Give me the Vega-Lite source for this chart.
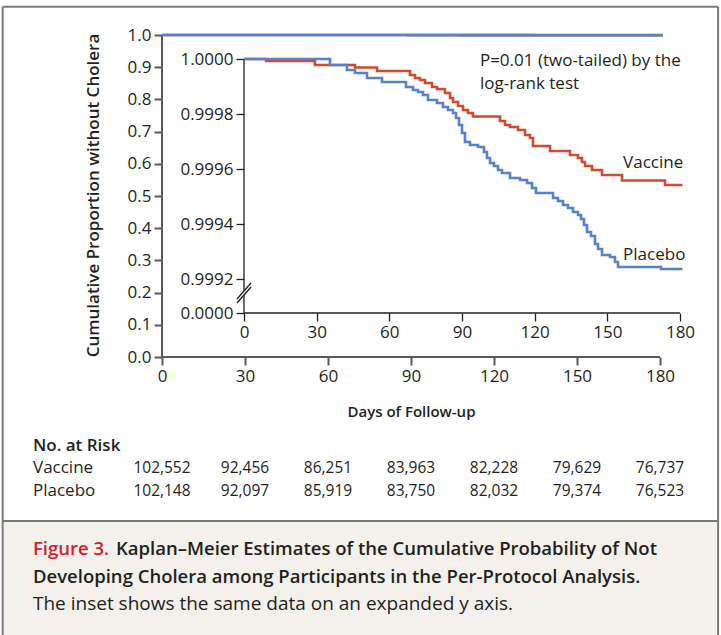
{
  "$schema": "https://vega.github.io/schema/vega-lite/v6.json",
  "width": 721,
  "height": 635,
  "autosize": "none",
  "padding": 0,
  "background": "white",
  "config": {
    "view": {"stroke": null},
    "font": "Open Sans",
    "axis": {"labelFont": "Open Sans", "labelFontSize": 17, "labelColor": "#231f20", "grid": false, "domain": false, "titleFont": "Open Sans"},
    "text": {"font": "Open Sans", "fontSize": 15, "color": "#231f20"}
  },
  "datasets": {
    "km": [
      {"group": "Vaccine", "day": 0, "surv": 1},
      {"group": "Vaccine", "day": 9.08, "surv": 0.9999927},
      {"group": "Vaccine", "day": 29.31, "surv": 0.9999782},
      {"group": "Vaccine", "day": 45.83, "surv": 0.9999691},
      {"group": "Vaccine", "day": 54.91, "surv": 0.9999564},
      {"group": "Vaccine", "day": 68.53, "surv": 0.9999418},
      {"group": "Vaccine", "day": 70.6, "surv": 0.9999309},
      {"group": "Vaccine", "day": 72.66, "surv": 0.9999236},
      {"group": "Vaccine", "day": 74.73, "surv": 0.9999127},
      {"group": "Vaccine", "day": 77.62, "surv": 0.9998982},
      {"group": "Vaccine", "day": 79.68, "surv": 0.9998909},
      {"group": "Vaccine", "day": 82.98, "surv": 0.9998764},
      {"group": "Vaccine", "day": 85.05, "surv": 0.9998582},
      {"group": "Vaccine", "day": 86.29, "surv": 0.9998436},
      {"group": "Vaccine", "day": 88.35, "surv": 0.9998291},
      {"group": "Vaccine", "day": 90.41, "surv": 0.9998145},
      {"group": "Vaccine", "day": 92.48, "surv": 0.9998036},
      {"group": "Vaccine", "day": 94.54, "surv": 0.9997909},
      {"group": "Vaccine", "day": 105.69, "surv": 0.9997745},
      {"group": "Vaccine", "day": 107.75, "surv": 0.99976},
      {"group": "Vaccine", "day": 109.82, "surv": 0.9997527},
      {"group": "Vaccine", "day": 113.12, "surv": 0.9997418},
      {"group": "Vaccine", "day": 116.01, "surv": 0.9997236},
      {"group": "Vaccine", "day": 118.07, "surv": 0.9997127},
      {"group": "Vaccine", "day": 119.31, "surv": 0.9996836},
      {"group": "Vaccine", "day": 126.33, "surv": 0.9996655},
      {"group": "Vaccine", "day": 134.59, "surv": 0.9996509},
      {"group": "Vaccine", "day": 137.89, "surv": 0.99964},
      {"group": "Vaccine", "day": 139.54, "surv": 0.9996255},
      {"group": "Vaccine", "day": 140.78, "surv": 0.9996109},
      {"group": "Vaccine", "day": 143.67, "surv": 0.9995964},
      {"group": "Vaccine", "day": 147.8, "surv": 0.9995782},
      {"group": "Vaccine", "day": 156.06, "surv": 0.9995582},
      {"group": "Vaccine", "day": 173.81, "surv": 0.9995418},
      {"group": "Vaccine", "day": 181, "surv": 0.9995418},
      {"group": "Placebo", "day": 0, "surv": 1},
      {"group": "Placebo", "day": 35.51, "surv": 0.9999782},
      {"group": "Placebo", "day": 42.52, "surv": 0.99996},
      {"group": "Placebo", "day": 45.83, "surv": 0.9999491},
      {"group": "Placebo", "day": 50.78, "surv": 0.9999309},
      {"group": "Placebo", "day": 56.97, "surv": 0.9999164},
      {"group": "Placebo", "day": 66.88, "surv": 0.9998982},
      {"group": "Placebo", "day": 69.77, "surv": 0.9998873},
      {"group": "Placebo", "day": 71.84, "surv": 0.99988},
      {"group": "Placebo", "day": 73.9, "surv": 0.9998691},
      {"group": "Placebo", "day": 75.97, "surv": 0.9998509},
      {"group": "Placebo", "day": 79.68, "surv": 0.99984},
      {"group": "Placebo", "day": 82.16, "surv": 0.9998255},
      {"group": "Placebo", "day": 84.22, "surv": 0.9998145},
      {"group": "Placebo", "day": 86.29, "surv": 0.9998036},
      {"group": "Placebo", "day": 87.52, "surv": 0.9997855},
      {"group": "Placebo", "day": 88.76, "surv": 0.99976},
      {"group": "Placebo", "day": 90.0, "surv": 0.9997309},
      {"group": "Placebo", "day": 91.24, "surv": 0.9996982},
      {"group": "Placebo", "day": 93.3, "surv": 0.9996873},
      {"group": "Placebo", "day": 96.61, "surv": 0.99968},
      {"group": "Placebo", "day": 99.08, "surv": 0.9996618},
      {"group": "Placebo", "day": 100.32, "surv": 0.99964},
      {"group": "Placebo", "day": 101.56, "surv": 0.9996218},
      {"group": "Placebo", "day": 103.21, "surv": 0.9996109},
      {"group": "Placebo", "day": 104.86, "surv": 0.9995964},
      {"group": "Placebo", "day": 106.52, "surv": 0.9995855},
      {"group": "Placebo", "day": 109.82, "surv": 0.9995673},
      {"group": "Placebo", "day": 113.95, "surv": 0.99956},
      {"group": "Placebo", "day": 116.84, "surv": 0.9995491},
      {"group": "Placebo", "day": 118.9, "surv": 0.9995309},
      {"group": "Placebo", "day": 120.55, "surv": 0.9995127},
      {"group": "Placebo", "day": 127.57, "surv": 0.9994945},
      {"group": "Placebo", "day": 129.63, "surv": 0.9994836},
      {"group": "Placebo", "day": 131.7, "surv": 0.9994691},
      {"group": "Placebo", "day": 133.76, "surv": 0.9994582},
      {"group": "Placebo", "day": 135.83, "surv": 0.9994436},
      {"group": "Placebo", "day": 137.89, "surv": 0.9994327},
      {"group": "Placebo", "day": 139.13, "surv": 0.9994182},
      {"group": "Placebo", "day": 140.37, "surv": 0.9993964},
      {"group": "Placebo", "day": 141.61, "surv": 0.9993709},
      {"group": "Placebo", "day": 143.26, "surv": 0.9993564},
      {"group": "Placebo", "day": 144.91, "surv": 0.9993273},
      {"group": "Placebo", "day": 146.15, "surv": 0.9993091},
      {"group": "Placebo", "day": 147.8, "surv": 0.9992873},
      {"group": "Placebo", "day": 151.1, "surv": 0.99928},
      {"group": "Placebo", "day": 153.17, "surv": 0.9992618},
      {"group": "Placebo", "day": 154.41, "surv": 0.9992436},
      {"group": "Placebo", "day": 172.16, "surv": 0.9992364},
      {"group": "Placebo", "day": 181, "surv": 0.9992364}
    ],
    "mainAxisLines": [
      {"x1": 0, "x2": 180, "y1": 0, "y2": 0},
      {"x1": 0, "x2": 0, "y1": 0, "y2": 1}
    ],
    "insetAxisLines": [
      {"x1": 0, "x2": 180, "y1": 0.99907636, "y2": 0.99907636},
      {"x1": 0, "x2": 0, "y1": 1.0, "y2": 0.9991564},
      {"x1": 0, "x2": 0, "y1": 0.9991418, "y2": 0.99907636},
      {"x1": -2.89, "x2": 2.89, "y1": 0.9991273, "y2": 0.9991855},
      {"x1": -2.89, "x2": 2.89, "y1": 0.9991127, "y2": 0.9991709}
    ],
    "insetNotes": [
      {"text": "P=0.01 (two-tailed) by the", "day": 97.4, "surv": 0.9999927},
      {"text": "log-rank test", "day": 97.4, "surv": 0.9999091},
      {"text": "Vaccine", "day": 156.5, "surv": 0.9996218},
      {"text": "Placebo", "day": 156.5, "surv": 0.9992873}
    ],
    "atRisk": [
      {"group": "Vaccine", "row": 1, "day": 0, "n": 102552},
      {"group": "Vaccine", "row": 1, "day": 30, "n": 92456},
      {"group": "Vaccine", "row": 1, "day": 60, "n": 86251},
      {"group": "Vaccine", "row": 1, "day": 90, "n": 83963},
      {"group": "Vaccine", "row": 1, "day": 120, "n": 82228},
      {"group": "Vaccine", "row": 1, "day": 150, "n": 79629},
      {"group": "Vaccine", "row": 1, "day": 180, "n": 76737},
      {"group": "Placebo", "row": 2, "day": 0, "n": 102148},
      {"group": "Placebo", "row": 2, "day": 30, "n": 92097},
      {"group": "Placebo", "row": 2, "day": 60, "n": 85919},
      {"group": "Placebo", "row": 2, "day": 90, "n": 83750},
      {"group": "Placebo", "row": 2, "day": 120, "n": 82032},
      {"group": "Placebo", "row": 2, "day": 150, "n": 79374},
      {"group": "Placebo", "row": 2, "day": 180, "n": 76523}
    ],
    "riskLabels": [
      {"text": "No. at Risk", "row": 0, "bold": true},
      {"text": "Vaccine", "row": 1, "bold": false},
      {"text": "Placebo", "row": 2, "bold": false}
    ],
    "caption": [
      {"line": 1, "part": "label", "text": "Figure 3."},
      {"line": 1, "part": "title1", "text": "Kaplan–Meier Estimates of the Cumulative Probability of Not"},
      {"line": 2, "part": "title2", "text": "Developing Cholera among Participants in the Per-Protocol Analysis."},
      {"line": 3, "part": "body", "text": "The inset shows the same data on an expanded y axis."}
    ],
    "frame": [
      {"x1": -57.6, "x2": 201.0, "y1": -18.72, "y2": -18.72},
      {"x1": -57.6, "x2": -57.6, "y1": -18.72, "y2": 4.2},
      {"x1": 201.0, "x2": 201.0, "y1": -18.72, "y2": 4.2},
      {"x1": -57.6, "x2": 201.0, "y1": -0.02, "y2": -0.02}
    ],
    "captionBox": [
      {"x1": -57.6, "x2": 201.0, "y1": -0.02, "y2": 4.2}
    ]
  },
  "layer": [
    {
      "data": {"name": "captionBox"},
      "mark": {"type": "rect", "fill": "#f4f1ec"},
      "encoding": {
        "x": {"field": "x1", "type": "quantitative", "scale": {"domain": [-58.554, 202.048], "nice": false, "zero": false}, "axis": null},
        "x2": {"field": "x2"},
        "y": {"field": "y1", "type": "quantitative", "scale": {"domain": [-18.964, 4.127], "nice": false, "zero": false, "reverse": true}, "axis": null},
        "y2": {"field": "y2"}
      }
    },
    {
      "data": {"name": "frame"},
      "mark": {"type": "rule", "color": "#7a7a7a", "strokeWidth": 2},
      "encoding": {
        "x": {"field": "x1", "type": "quantitative", "scale": {"domain": [-58.554, 202.048], "nice": false, "zero": false}, "axis": null},
        "x2": {"field": "x2"},
        "y": {"field": "y1", "type": "quantitative", "scale": {"domain": [-18.964, 4.127], "nice": false, "zero": false, "reverse": true}, "axis": null},
        "y2": {"field": "y2"}
      }
    },
    {
      "data": {"name": "caption"},
      "transform": [{"filter": "datum.part == 'label'"}],
      "mark": {"type": "text", "align": "left", "baseline": "middle", "fontSize": 18.5, "fontWeight": 600, "color": "#d0222c"},
      "encoding": {
        "x": {"datum": -46.63, "type": "quantitative", "scale": {"domain": [-58.554, 202.048], "nice": false, "zero": false}, "axis": null},
        "y": {"field": "line", "type": "quantitative", "scale": {"domain": [-18.964, 4.127], "nice": false, "zero": false, "reverse": true}, "axis": null},
        "text": {"field": "text"}
      }
    },
    {
      "data": {"name": "caption"},
      "transform": [{"filter": "datum.part == 'title1'"}],
      "mark": {"type": "text", "align": "left", "baseline": "middle", "fontSize": 18.5, "fontWeight": 600, "color": "#231f20", "dx": 83},
      "encoding": {
        "x": {"datum": -46.63, "type": "quantitative", "scale": {"domain": [-58.554, 202.048], "nice": false, "zero": false}, "axis": null},
        "y": {"field": "line", "type": "quantitative", "scale": {"domain": [-18.964, 4.127], "nice": false, "zero": false, "reverse": true}, "axis": null},
        "text": {"field": "text"}
      }
    },
    {
      "data": {"name": "caption"},
      "transform": [{"filter": "datum.part == 'title2'"}],
      "mark": {"type": "text", "align": "left", "baseline": "middle", "fontSize": 18.5, "fontWeight": 600, "color": "#231f20"},
      "encoding": {
        "x": {"datum": -46.63, "type": "quantitative", "scale": {"domain": [-58.554, 202.048], "nice": false, "zero": false}, "axis": null},
        "y": {"field": "line", "type": "quantitative", "scale": {"domain": [-18.964, 4.127], "nice": false, "zero": false, "reverse": true}, "axis": null},
        "text": {"field": "text"}
      }
    },
    {
      "data": {"name": "caption"},
      "transform": [{"filter": "datum.part == 'body'"}],
      "mark": {"type": "text", "align": "left", "baseline": "middle", "fontSize": 19, "color": "#231f20"},
      "encoding": {
        "x": {"datum": -46.63, "type": "quantitative", "scale": {"domain": [-58.554, 202.048], "nice": false, "zero": false}, "axis": null},
        "y": {"field": "line", "type": "quantitative", "scale": {"domain": [-18.964, 4.127], "nice": false, "zero": false, "reverse": true}, "axis": null},
        "text": {"field": "text"}
      }
    },
    {
      "data": {"name": "mainAxisLines"},
      "mark": {"type": "rule", "color": "#5a5a5a", "strokeWidth": 2},
      "encoding": {
        "x": {
          "field": "x1", "type": "quantitative",
          "scale": {"domain": [-58.554, 202.048], "nice": false, "zero": false},
          "axis": {"orient": "bottom", "offset": -278, "values": [0, 30, 60, 90, 120, 150, 180], "tickSize": 8, "tickColor": "#5a5a5a", "tickWidth": 2, "labelPadding": 3,
            "title": "Days of Follow-up", "titleFontSize": 15, "titleFontWeight": 600, "titleColor": "#231f20", "titleX": 411, "titleY": 54, "titleBaseline": "middle", "titleAlign": "center"}
        },
        "x2": {"field": "x2"},
        "y": {
          "field": "y1", "type": "quantitative",
          "scale": {"domain": [-0.86335, 1.1087], "nice": false, "zero": false},
          "axis": {"orient": "left", "offset": -162, "values": [0, 0.1, 0.2, 0.3, 0.4, 0.5, 0.6, 0.7, 0.8, 0.9, 1.0], "format": ".1f", "tickSize": 8, "tickColor": "#5a5a5a", "tickWidth": 2, "labelPadding": 3,
            "title": "Cumulative Proportion without Cholera", "titleFontSize": 17, "titleFontWeight": 600, "titleColor": "#231f20", "titleX": -69, "titleY": 195, "titleBaseline": "middle", "titleAlign": "center", "titleAngle": -90}
        },
        "y2": {"field": "y2"}
      }
    },
    {
      "data": {"name": "km"},
      "transform": [{"filter": "datum.group == 'Vaccine'"}],
      "mark": {"type": "line", "interpolate": "step-after", "strokeWidth": 2.6, "color": "#cf4a2e"},
      "encoding": {
        "x": {"field": "day", "type": "quantitative", "scale": {"domain": [-58.554, 202.048], "nice": false, "zero": false}, "axis": null},
        "y": {"field": "surv", "type": "quantitative", "scale": {"domain": [-0.86335, 1.1087], "nice": false, "zero": false}, "axis": null}
      }
    },
    {
      "data": {"name": "km"},
      "transform": [{"filter": "datum.group == 'Placebo'"}],
      "mark": {"type": "line", "interpolate": "step-after", "strokeWidth": 2.6, "color": "#5682c8"},
      "encoding": {
        "x": {"field": "day", "type": "quantitative", "scale": {"domain": [-58.554, 202.048], "nice": false, "zero": false}, "axis": null},
        "y": {"field": "surv", "type": "quantitative", "scale": {"domain": [-0.86335, 1.1087], "nice": false, "zero": false}, "axis": null}
      }
    },
    {
      "data": {"name": "insetAxisLines"},
      "mark": {"type": "rule", "color": "#231f20", "strokeWidth": 1.3},
      "encoding": {
        "x": {
          "field": "x1", "type": "quantitative",
          "scale": {"domain": [-100.735, 196.93], "nice": false, "zero": false},
          "axis": {"orient": "bottom", "offset": -322, "values": [0, 30, 60, 90, 120, 150, 180], "tickSize": 8, "tickColor": "#231f20", "tickWidth": 1.3, "labelPadding": 3, "title": null}
        },
        "x2": {"field": "x2"},
        "y": {
          "field": "y1", "type": "quantitative",
          "scale": {"domain": [0.9979055, 1.00021455], "nice": false, "zero": false},
          "axis": {"orient": "left", "offset": -244, "values": [0.99907636, 0.9992, 0.9994, 0.9996, 0.9998, 1.0], "labelExpr": "datum.value < 0.9991 ? '0.0000' : format(datum.value, '.4f')", "tickSize": 8, "tickColor": "#231f20", "tickWidth": 1.3, "labelPadding": 3, "title": null}
        },
        "y2": {"field": "y2"}
      }
    },
    {
      "data": {"name": "km"},
      "transform": [{"filter": "datum.group == 'Vaccine'"}],
      "mark": {"type": "line", "interpolate": "step-after", "strokeWidth": 2.6, "color": "#cf4a2e"},
      "encoding": {
        "x": {"field": "day", "type": "quantitative", "scale": {"domain": [-100.735, 196.93], "nice": false, "zero": false}, "axis": null},
        "y": {"field": "surv", "type": "quantitative", "scale": {"domain": [0.9979055, 1.00021455], "nice": false, "zero": false}, "axis": null}
      }
    },
    {
      "data": {"name": "km"},
      "transform": [{"filter": "datum.group == 'Placebo'"}],
      "mark": {"type": "line", "interpolate": "step-after", "strokeWidth": 2.6, "color": "#5682c8"},
      "encoding": {
        "x": {"field": "day", "type": "quantitative", "scale": {"domain": [-100.735, 196.93], "nice": false, "zero": false}, "axis": null},
        "y": {"field": "surv", "type": "quantitative", "scale": {"domain": [0.9979055, 1.00021455], "nice": false, "zero": false}, "axis": null}
      }
    },
    {
      "data": {"name": "insetNotes"},
      "mark": {"type": "text", "align": "left", "baseline": "middle", "fontSize": 17, "color": "#231f20"},
      "encoding": {
        "x": {"field": "day", "type": "quantitative", "scale": {"domain": [-100.735, 196.93], "nice": false, "zero": false}, "axis": null},
        "y": {"field": "surv", "type": "quantitative", "scale": {"domain": [0.9979055, 1.00021455], "nice": false, "zero": false}, "axis": null},
        "text": {"field": "text"}
      }
    },
    {
      "data": {"name": "atRisk"},
      "mark": {"type": "text", "align": "center", "baseline": "middle", "fontSize": 15.5, "color": "#231f20"},
      "encoding": {
        "x": {"field": "day", "type": "quantitative", "scale": {"domain": [-58.554, 202.048], "nice": false, "zero": false}, "axis": null},
        "y": {"field": "row", "type": "quantitative", "scale": {"domain": [-19.8222, 8.4], "nice": false, "zero": false, "reverse": true}, "axis": null},
        "text": {"field": "n", "type": "quantitative", "format": ","}
      }
    },
    {
      "data": {"name": "riskLabels"},
      "transform": [{"filter": "datum.bold"}],
      "mark": {"type": "text", "align": "left", "baseline": "middle", "fontSize": 17, "fontWeight": 600, "color": "#231f20"},
      "encoding": {
        "x": {"datum": -46.63, "type": "quantitative", "scale": {"domain": [-58.554, 202.048], "nice": false, "zero": false}, "axis": null},
        "y": {"field": "row", "type": "quantitative", "scale": {"domain": [-19.8222, 8.4], "nice": false, "zero": false, "reverse": true}, "axis": null},
        "text": {"field": "text"}
      }
    },
    {
      "data": {"name": "riskLabels"},
      "transform": [{"filter": "!datum.bold"}],
      "mark": {"type": "text", "align": "left", "baseline": "middle", "fontSize": 17, "color": "#231f20"},
      "encoding": {
        "x": {"datum": -46.63, "type": "quantitative", "scale": {"domain": [-58.554, 202.048], "nice": false, "zero": false}, "axis": null},
        "y": {"field": "row", "type": "quantitative", "scale": {"domain": [-19.8222, 8.4], "nice": false, "zero": false, "reverse": true}, "axis": null},
        "text": {"field": "text"}
      }
    }
  ],
  "resolve": {"scale": {"x": "independent", "y": "independent"}, "axis": {"x": "independent", "y": "independent"}}
}
